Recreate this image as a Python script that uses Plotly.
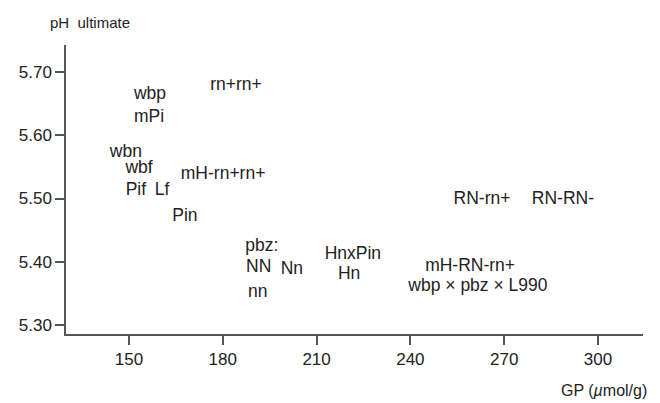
import plotly.graph_objects as go

labels = ["rn+rn+", "wbp", "mPi", "wbn", "wbf", "mH-rn+rn+", "Pif", "Lf", "Pin",
          "pbz:", "NN", "Nn", "nn", "HnxPin", "Hn", "mH-RN-rn+",
          "wbp \u00d7 pbz \u00d7 L990", "RN-rn+", "RN-RN-"]
gp = [184.2, 156.7, 156.4, 149.0, 153.2, 180.1, 152.2, 160.6, 167.9,
      192.5, 191.5, 202.1, 191.2, 221.6, 220.4, 259.1, 261.6, 262.9, 288.8]
ph = [5.679, 5.664, 5.628, 5.572, 5.547, 5.537, 5.513, 5.512, 5.471,
      5.424, 5.390, 5.388, 5.351, 5.412, 5.380, 5.393, 5.361, 5.498, 5.498]

x_ticks = [150, 180, 210, 240, 270, 300]
y_ticks = [5.30, 5.40, 5.50, 5.60, 5.70]
y_tick_text = ["5.30", "5.40", "5.50", "5.60", "5.70"]

FONT = "Liberation Sans, Arial, sans-serif"
TXT = "#222222"
AX = "#555555"

fig = go.Figure(go.Scatter(
    x=gp, y=ph, mode="text", text=labels, textposition="middle center",
    textfont=dict(family=FONT, size=17.5, color=TXT), hoverinfo="skip"))

fig.update_layout(
    width=652, height=395, margin=dict(l=58, r=17, t=37, b=69),
    paper_bgcolor="white", plot_bgcolor="white", showlegend=False,
    font=dict(family=FONT, size=17, color=TXT),
    xaxis=dict(range=[129.85, 314.4], tickvals=x_ticks, showgrid=False, zeroline=False,
               automargin=False,
               showline=True, linecolor=AX, linewidth=1.5, ticks="outside", ticklen=9,
               tickwidth=1.5, tickcolor=AX, tickfont=dict(family=FONT, size=17, color=TXT)),
    yaxis=dict(range=[5.2858, 5.7427], tickvals=y_ticks, ticktext=y_tick_text, showgrid=False,
               automargin=False,
               zeroline=False, showline=True, linecolor=AX, linewidth=1.5, ticks="outside",
               ticklen=9, tickwidth=1.5, tickcolor=AX,
               tickfont=dict(family=FONT, size=17, color=TXT)),
    annotations=[
        dict(text="pH&nbsp;&nbsp;ultimate", xref="paper", yref="paper", x=-0.031, y=1.0,
             xanchor="left", yanchor="bottom", yshift=12, showarrow=False,
             font=dict(family=FONT, size=15, color=TXT)),
        dict(text="GP (<i>\u00b5</i>mol/g)", xref="paper", yref="paper", x=1.0, y=0,
             xanchor="right", yanchor="top", yshift=-46, xshift=6, showarrow=False,
             font=dict(family=FONT, size=16, color=TXT)),
    ],
)

fig.write_html("out.html")
